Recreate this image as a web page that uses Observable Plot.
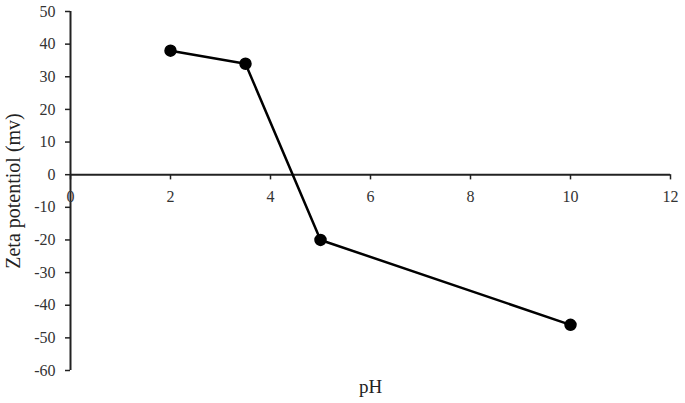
<!DOCTYPE html>
<html>
<head>
<meta charset="utf-8">
<script src="https://cdn.jsdelivr.net/npm/d3@7"></script>
<script src="https://cdn.jsdelivr.net/npm/@observablehq/plot@0.6"></script>
<style>
  body { margin: 0; background: #fff; }
  svg, svg text { font-family: "Liberation Serif", "DejaVu Serif", serif !important; }
</style>
</head>
<body>
<div id="chart"></div>
<script>
const pH = [2, 3.5, 5, 10];
const zeta = [38, 34, -20, -46];
const xTicks = [0, 2, 4, 6, 8, 10, 12];
const yTicks = [-60, -50, -40, -30, -20, -10, 0, 10, 20, 30, 40, 50];
const xTitle = "pH";
const yTitle = "Zeta potentiol (mv)";

const data = pH.map((x, i) => ({x, y: zeta[i]}));
const serif = "Liberation Serif";

const chart = Plot.plot({
  width: 685,
  height: 403,
  marginLeft: 70,
  marginRight: 15,
  marginTop: 11,
  marginBottom: 33,
  style: {fontFamily: serif, fontSize: "16px", color: "#222", background: "#fff"},
  x: {domain: [0, 12], axis: null},
  y: {domain: [-60, 50], axis: null},
  marks: [
    Plot.axisY(yTicks, {tickSize: 5, tickPadding: 10, fontSize: 16, fontFamily: serif, stroke: "#222", strokeWidth: 1.5,
      fill: "#333", tickFormat: d => String(d), label: null}),
    Plot.ruleX([0], {y1: -60, y2: 50, stroke: "#222", strokeWidth: 2}),
    Plot.ruleY([0], {x1: 0, x2: 12, stroke: "#222", strokeWidth: 2}),
    Plot.ruleX(xTicks, {x: d => d, y1: 0, y2: -1.6, stroke: "#222", strokeWidth: 1.5}),
    Plot.text(xTicks, {x: d => d, y: 0, dy: 22, text: d => String(d), fontSize: 16, fontFamily: serif, fill: "#333"}),
    Plot.line(data, {x: "x", y: "y", stroke: "#000", strokeWidth: 2.5}),
    Plot.dot(data, {x: "x", y: "y", r: 5.5, fill: "#000", stroke: "#000"}),
    Plot.text([xTitle], {frameAnchor: "bottom", textAnchor: "middle", lineAnchor: "middle", dy: 16, fontSize: 19, fontFamily: serif, fill: "#222"}),
    Plot.text([yTitle], {frameAnchor: "left", textAnchor: "middle", lineAnchor: "middle", dx: -57, rotate: -90, fontSize: 20, fontFamily: serif, fill: "#222"})
  ]
});
document.getElementById("chart").appendChild(chart);
</script>
</body>
</html>
